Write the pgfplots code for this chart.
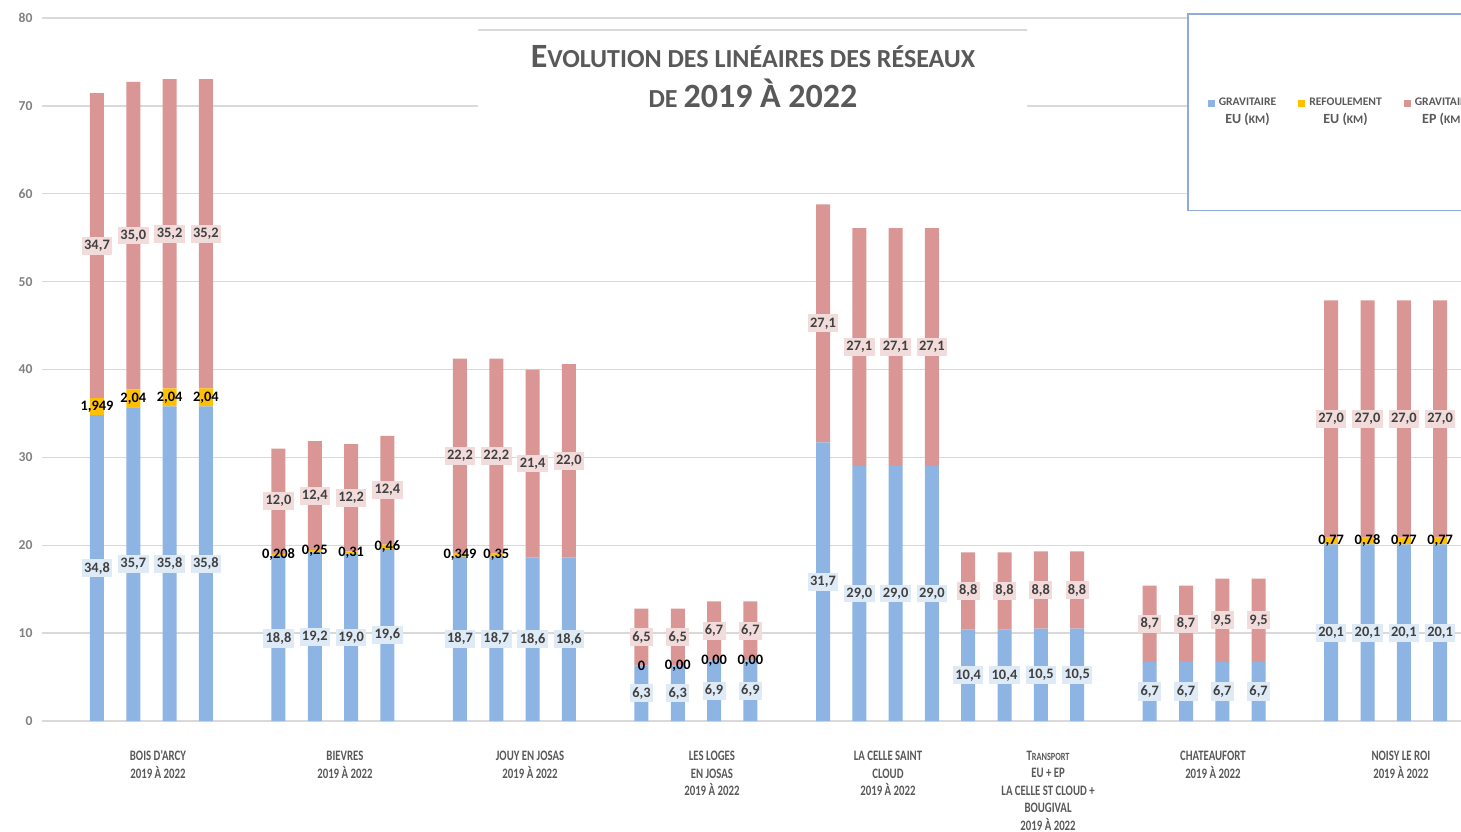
\documentclass[border=0pt]{standalone}
\usepackage{fontspec}
\setmainfont{Carlito}
\newfontfamily\narrow[FakeStretch=0.75]{Carlito}
\usepackage{pgfplots}
\usepackage{pgfplotstable}
\pgfplotsset{compat=1.18}
\definecolor{eu}{HTML}{8DB4E2}
\definecolor{refo}{HTML}{FFC000}
\definecolor{ep}{HTML}{D99694}
\definecolor{txt}{HTML}{595959}
\definecolor{lbl}{HTML}{404040}
\definecolor{gridc}{HTML}{D9D9D9}
\definecolor{lblue}{HTML}{DEEBF7}
\definecolor{lpink}{HTML}{F2DCDB}
\definecolor{legbox}{HTML}{8FAADC}

% x: position of the bar (groups of four), eu/ref/ep: km, l*: labels as printed
\pgfplotstableread{
x  eu   ref   ep   leu  lref  lep
0  34.8 1.949 34.7 34,8 1,949 34,7
1  35.7 2.04  35.0 35,7 2,04  35,0
2  35.8 2.04  35.2 35,8 2,04  35,2
3  35.8 2.04  35.2 35,8 2,04  35,2
5  18.8 0.208 12.0 18,8 0,208 12,0
6  19.2 0.25  12.4 19,2 0,25  12,4
7  19.0 0.31  12.2 19,0 0,31  12,2
8  19.6 0.46  12.4 19,6 0,46  12,4
10 18.7 0.349 22.2 18,7 0,349 22,2
11 18.7 0.35  22.2 18,7 0,35  22,2
12 18.6 0     21.4 18,6 {}    21,4
13 18.6 0     22.0 18,6 {}    22,0
15 6.3  0     6.5  6,3  0     6,5
16 6.3  0     6.5  6,3  0,00  6,5
17 6.9  0     6.7  6,9  0,00  6,7
18 6.9  0     6.7  6,9  0,00  6,7
20 31.7 0     27.1 31,7 {}    27,1
21 29.0 0     27.1 29,0 {}    27,1
22 29.0 0     27.1 29,0 {}    27,1
23 29.0 0     27.1 29,0 {}    27,1
24 10.4 0     8.8  10,4 {}    8,8
25 10.4 0     8.8  10,4 {}    8,8
26 10.5 0     8.8  10,5 {}    8,8
27 10.5 0     8.8  10,5 {}    8,8
29 6.7  0     8.7  6,7  {}    8,7
30 6.7  0     8.7  6,7  {}    8,7
31 6.7  0     9.5  6,7  {}    9,5
32 6.7  0     9.5  6,7  {}    9,5
34 20.1 0.77  27.0 20,1 0,77  27,0
35 20.1 0.78  27.0 20,1 0,78  27,0
36 20.1 0.77  27.0 20,1 0,77  27,0
37 20.1 0.77  27.0 20,1 0,77  27,0
}\data

\pgfplotsset{
  frame/.style={
    scale only axis, width=709.5pt, height=351.5pt,
    at={(21pt,55pt)}, anchor=south west,
    xmin=-1.515, xmax=37.576, ymin=0, ymax=80,
  },
}
\tikzset{
  lab/.style={
    font=\bfseries\fontsize{7.2}{8}\selectfont, text=lbl,
    inner xsep=1.2pt, inner ysep=1.6pt, anchor=center,
  },
}
\newcommand{\sm}[1]{{\fontsize{5.8}{6}\selectfont #1}}

\begin{document}
\begin{tikzpicture}
\useasboundingbox (0,0) rectangle (730.5pt,415.5pt);
\clip (0,0) rectangle (730.5pt,415.5pt);

\begin{axis}[
  frame,
  ybar stacked, bar width=7pt,
  axis line style={draw=none},
  tick style={draw=none},
  ymajorgrids, grid style={gridc, line width=0.7pt},
  ytick={0,10,...,80},
  /pgf/number format/assume math mode=true,
  yticklabel style={font=\bfseries\fontsize{6.8}{8}\selectfont, text=gray, xshift=-1.2pt},
  xtick={1.68,6.83,11.93,16.94,21.79,26.2,30.74,35.92},
  xticklabels={
    {BOIS D'ARCY\\2019 À 2022},
    {BIEVRES\\2019 À 2022},
    {JOUY EN JOSAS\\2019 À 2022},
    {LES LOGES\\EN JOSAS\\2019 À 2022},
    {LA CELLE SAINT\\CLOUD\\2019 À 2022},
    {T{\fontsize{5.5}{6}\selectfont RANSPORT}\\EU + EP\\LA CELLE ST CLOUD +\\BOUGIVAL\\2019 À 2022},
    {CHATEAUFORT\\2019 À 2022},
    {NOISY LE ROI\\2019 À 2022}},
  xticklabel style={align=center, text=txt, anchor=north, yshift=-11.5pt,
    font=\narrow\bfseries\fontsize{7.2}{8.75}\selectfont},
  legend columns=3,
  legend style={at={(0.8069,1.0071)}, anchor=north west, draw=legbox, line width=0.8pt,
    fill=white, inner xsep=10pt, inner ysep=40pt,
    font=\bfseries\fontsize{7}{9}\selectfont, text=txt,
    cells={align=center},
    /tikz/every even column/.append style={column sep=9pt}},
  legend image code/.code={\fill[#1] (0pt,2.6pt) rectangle (3.5pt,6.1pt);},
]
\addplot[fill=eu, draw=none] table[x=x, y=eu] {\data};
\addlegendentry{\sm{GRAVITAIRE}\\EU (\sm{KM})}
\addplot[fill=refo, draw=none] table[x=x, y=ref] {\data};
\addlegendentry{\sm{REFOULEMENT}\\EU (\sm{KM})}
\addplot[fill=ep, draw=none] table[x=x, y=ep] {\data};
\addlegendentry{\sm{GRAVITAIRE}\\EP (\sm{KM})}
\end{axis}

\begin{axis}[frame, hide axis, clip=false]
\addplot[draw=none, mark=none, nodes near coords, point meta=explicit symbolic,
  every node near coord/.append style={lab, fill=lblue}]
  table[x=x, y expr=\thisrow{eu}/2, meta=leu] {\data};
\addplot[draw=none, mark=none, nodes near coords, point meta=explicit symbolic,
  every node near coord/.append style={lab, fill=lpink}]
  table[x=x, y expr=\thisrow{eu}+\thisrow{ref}+\thisrow{ep}/2, meta=lep] {\data};
\addplot[draw=none, mark=none, nodes near coords, point meta=explicit symbolic,
  every node near coord/.append style={lab, text=black}]
  table[x=x, y expr=\thisrow{eu}+\thisrow{ref}/2, meta=lref] {\data};
\end{axis}

% title block
\fill[white] (239pt,356pt) rectangle (513.5pt,400.5pt);
\draw[gridc, line width=1pt] (239pt,400.5pt) -- (513.5pt,400.5pt);
\node[align=center, text=txt, font=\bfseries\fontsize{13}{20}\selectfont] at (376.5pt,377pt)
  {{\fontsize{17}{20}\selectfont E}VOLUTION DES LINÉAIRES DES RÉSEAUX\\
   DE {\fontsize{17}{20}\selectfont 2019 À 2022}};
\end{tikzpicture}
\end{document}
